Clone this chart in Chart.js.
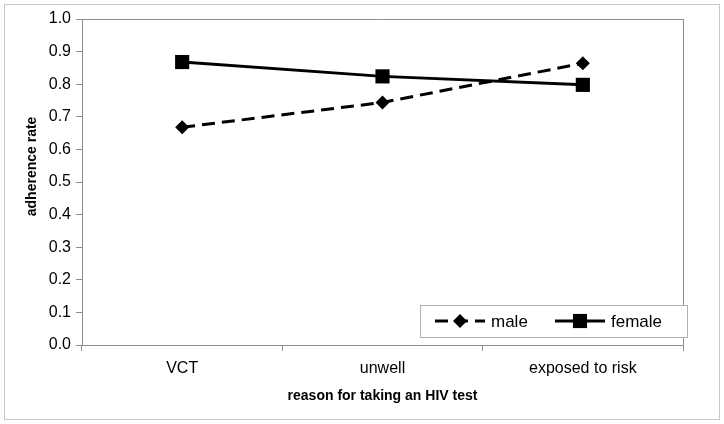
<!DOCTYPE html>
<html>
<head>
<meta charset="utf-8">
<script src="https://cdn.jsdelivr.net/npm/chart.js@4"></script>
<style>
  html, body { margin: 0; padding: 0; background: #fff; }
  #wrap { width: 724px; height: 424px; }
</style>
</head>
<body>
<div id="wrap"><canvas id="adherenceChart" width="724" height="424"></canvas></div>
<script>
const reasons = ['VCT', 'unwell', 'exposed to risk'];
const maleRates = [0.668, 0.744, 0.864];
const femaleRates = [0.868, 0.824, 0.798];
const yTicks = [0.0, 0.1, 0.2, 0.3, 0.4, 0.5, 0.6, 0.7, 0.8, 0.9, 1.0];

const GRAY = '#8c8c8c';
const FONT = "'Liberation Sans', Arial, sans-serif";

// frame around whole figure + plot area box
const framePlugin = {
    id: 'frame',
    beforeDraw(chart) {
        const c = chart.ctx;
        c.save();
        c.strokeStyle = '#c8c8c8';
        c.lineWidth = 1;
        c.strokeRect(4.5, 4.5, 715, 415);
        c.restore();
    },
    afterDraw(chart) {
        const a = chart.chartArea;
        const c = chart.ctx;
        c.save();
        c.strokeStyle = GRAY;
        c.lineWidth = 1;
        c.beginPath();
        c.moveTo(a.left, Math.round(a.top) + 0.5);
        c.lineTo(a.right, Math.round(a.top) + 0.5);
        c.moveTo(Math.round(a.right) + 0.5, a.top);
        c.lineTo(Math.round(a.right) + 0.5, a.bottom);
        c.stroke();
        c.restore();
    }
};

// Excel-style legend inside the plot: line sample + marker
const boxLegend = {
    id: 'boxLegend',
    afterDraw(chart) {
        const c = chart.ctx;
        const a = chart.chartArea;
        const bx = a.right - 263, by = a.bottom - 40, bw = 267, bh = 32;
        c.save();
        c.fillStyle = '#fff';
        c.fillRect(bx, by, bw, bh);
        c.strokeStyle = '#b0b0b0';
        c.lineWidth = 1;
        c.strokeRect(Math.round(bx) + 0.5, Math.round(by) + 0.5, bw, bh);
        const cy = by + bh / 2;
        const starts = [bx + 15, bx + 135];
        chart.data.datasets.forEach((ds, i) => {
            const x0 = starts[i];
            c.strokeStyle = ds.borderColor;
            c.lineWidth = ds.borderWidth;
            c.setLineDash(ds.borderDash || []);
            c.beginPath();
            c.moveTo(x0, cy);
            c.lineTo(x0 + 50, cy);
            c.stroke();
            c.setLineDash([]);
            c.fillStyle = ds.pointBackgroundColor;
            Chart.helpers.drawPoint(c, {
                pointStyle: ds.pointStyle,
                radius: ds.pointRadius,
                rotation: 0,
                borderWidth: 0
            }, x0 + 25, cy);
            c.fillStyle = '#000';
            c.font = '17px ' + FONT;
            c.textBaseline = 'middle';
            c.textAlign = 'left';
            c.fillText(ds.label, x0 + 56, cy + 1);
        });
        c.restore();
    }
};

new Chart(document.getElementById('adherenceChart').getContext('2d'), {
    type: 'line',
    data: {
        labels: reasons,
        datasets: [{
            label: 'male',
            data: maleRates,
            borderColor: '#000',
            borderWidth: 3,
            borderDash: [13, 7],
            pointStyle: 'rectRot',
            pointRadius: 7,
            pointBackgroundColor: '#000',
            pointBorderWidth: 0,
            fill: false,
            tension: 0
        }, {
            label: 'female',
            data: femaleRates,
            borderColor: '#000',
            borderWidth: 3,
            pointStyle: 'rect',
            pointRadius: 10,
            pointBackgroundColor: '#000',
            pointBorderWidth: 0,
            fill: false,
            tension: 0
        }]
    },
    options: {
        responsive: false,
        animation: false,
        events: [],
        layout: { padding: { left: 24, top: 19, right: 41, bottom: 0 } },
        plugins: {
            legend: { display: false },
            tooltip: { enabled: false }
        },
        scales: {
            x: {
                offset: true,
                grid: { offset: true, drawOnChartArea: false, color: GRAY, tickLength: 6 },
                border: { color: GRAY },
                ticks: { color: '#000', font: { family: FONT, size: 16 }, padding: 8, maxRotation: 0 },
                title: {
                    display: true,
                    text: 'reason for taking an HIV test',
                    color: '#000',
                    font: { family: FONT, size: 14, weight: 'bold' },
                    padding: { top: 4, bottom: 19 }
                },
                afterFit(scale) { scale.height = 79; }
            },
            y: {
                min: 0,
                max: 1,
                afterBuildTicks(scale) { scale.ticks = yTicks.map(v => ({ value: v })); },
                grid: { drawOnChartArea: false, color: GRAY, tickLength: 6 },
                border: { color: GRAY },
                ticks: {
                    color: '#000',
                    font: { family: FONT, size: 16 },
                    padding: 5,
                    callback: v => Number(v).toFixed(1)
                },
                title: {
                    display: true,
                    // leading spaces nudge the visible text upward, as in the original
                    text: '        adherence rate',
                    color: '#000',
                    font: { family: FONT, size: 14, weight: 'bold' },
                    padding: 0
                },
                afterFit(scale) { scale.width = 58; }
            }
        }
    },
    plugins: [framePlugin, boxLegend]
});
</script>
</body>
</html>
